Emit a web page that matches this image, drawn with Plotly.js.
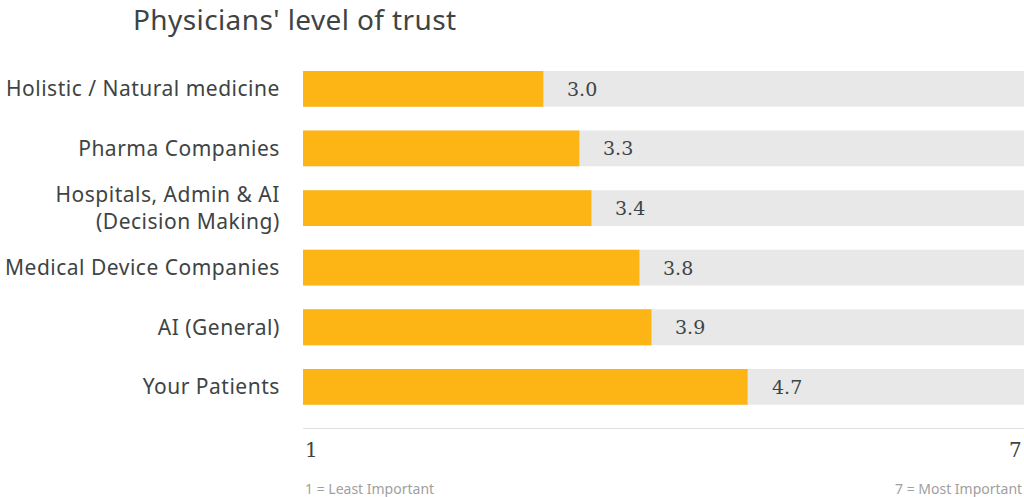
<!DOCTYPE html>
<html><head><meta charset="utf-8">
<script src="https://cdn.plot.ly/plotly-3.0.1.min.js"></script>
<style>
html,body{margin:0;padding:0;background:#fff}#chart{width:1024px;height:497px}
#chart .ytick text{letter-spacing:0.5px}
#chart .gtitle{letter-spacing:0.4px}
</style>
</head><body><div id="chart"></div>
<script>
const categories = ["Holistic / Natural medicine", "Pharma Companies", "Hospitals, Admin & AI<br>(Decision Making)", "Medical Device Companies", "AI (General)", "Your Patients"];
const values = [3.0, 3.3, 3.4, 3.8, 3.9, 4.7];
const scaleMin = 1;
const scaleMax = 7;
const tickLabels = ["1", "7"];
const footLeft = "1 = Least Important";
const footRight = "7 = Most Important";

const sans = "'Noto Sans', 'Open Sans', sans-serif";
const serif = "'DejaVu Serif', 'Liberation Serif', serif";
const textColor = "#3e4444";

const bg = {
  type: "bar", orientation: "h", y: categories, x: categories.map(() => scaleMax),
  marker: {color: "#e8e8e8"}, width: 0.6, hoverinfo: "skip", showlegend: false
};
const fg = {
  type: "bar", orientation: "h", y: categories, x: values,
  marker: {color: "#fdb515"}, width: 0.6, showlegend: false
};

const annotations = values.map((v, i) => ({
  x: v, y: categories[i], xref: "x", yref: "y", text: v.toFixed(1),
  showarrow: false, xanchor: "left", xshift: 22,
  font: {family: serif, size: 19, color: textColor}
}));
annotations.push({x: scaleMin, y: 0, xref: "x", yref: "paper", text: tickLabels[0], showarrow: false,
  xanchor: "left", yanchor: "top", xshift: 0, yshift: -8, font: {family: serif, size: 20, color: textColor}});
annotations.push({x: scaleMax, y: 0, xref: "x", yref: "paper", text: tickLabels[1], showarrow: false,
  xanchor: "right", yanchor: "top", xshift: 0, yshift: -8, font: {family: serif, size: 20, color: textColor}});
annotations.push({x: 0, y: -60/369, xref: "paper", yref: "paper", text: footLeft, showarrow: false,
  xanchor: "left", yanchor: "middle", font: {family: sans, size: 14, color: "#a0a0a0"}});
annotations.push({x: 1, y: -60/369, xref: "paper", yref: "paper", text: footRight, showarrow: false,
  xanchor: "right", yanchor: "middle", font: {family: sans, size: 14, color: "#a0a0a0"}});

const layout = {
  width: 1024, height: 497,
  margin: {l: 303, r: 0, t: 59, b: 69},
  paper_bgcolor: "#fff", plot_bgcolor: "#fff",
  barmode: "overlay",
  title: {text: "Physicians' level of trust", x: 133/1024, xref: "container", xanchor: "left",
    y: 1 - 20/497, yref: "container", yanchor: "middle",
    font: {family: sans, size: 28, color: textColor}},
  xaxis: {range: [scaleMin, scaleMax], showgrid: false, zeroline: false, showticklabels: false,
    showline: true, linecolor: "#e0e0e0", linewidth: 1, fixedrange: true},
  yaxis: {type: "category", categoryorder: "array", categoryarray: categories, range: [5.69, -0.5],
    showgrid: false, zeroline: false, ticks: "outside", ticklen: 18, tickcolor: "rgba(0,0,0,0)",
    tickfont: {family: sans, size: 21, color: textColor}, fixedrange: true},
  annotations: annotations
};
Plotly.newPlot("chart", [bg, fg], layout, {displayModeBar: false, staticPlot: true});
</script></body></html>
